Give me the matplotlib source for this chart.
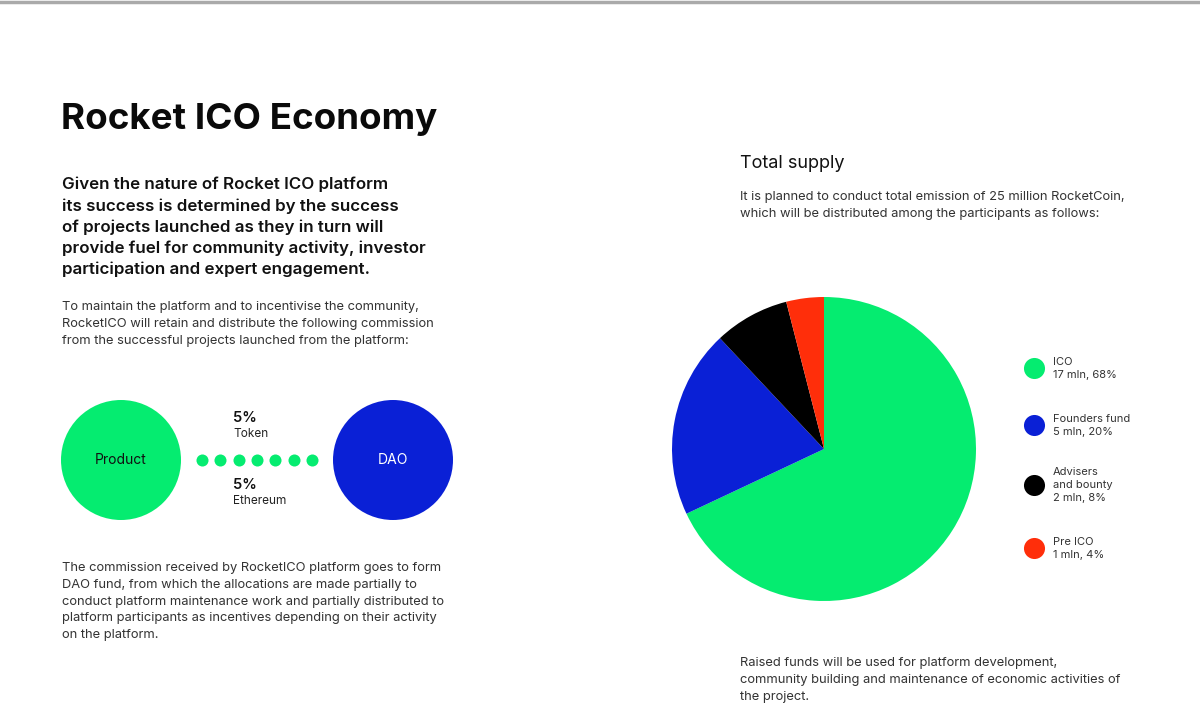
import matplotlib
matplotlib.use("Agg")
import matplotlib.pyplot as plt
from matplotlib.patches import Circle

# Pie data
shares = [68, 20, 8, 4]
amounts = ["17 mln", "5 mln", "2 mln", "1 mln"]
names = ["ICO", "Founders fund", "Advisers\nand bounty", "Pre ICO"]
colors = ["#05EC70", "#0A20D6", "#000000", "#FF2E0A"]

# Commission flow
flow_nodes = ["Product", "DAO"]
flow_colors = ["#05EC70", "#0A20D6"]
flow_text = [("5%", "Token"), ("5%", "Ethereum")]
n_dots = 7

FONT = "Inter"
W, H = 1200, 709
BODY = dict(fontsize=9.3, family=FONT, va="top", ha="left",
            color="#333333", linespacing=1.53)

fig = plt.figure(figsize=(12, 7.09), dpi=100)
fig.patch.set_facecolor("white")

# Page overlay in pixel coords
ax = fig.add_axes([0, 0, 1, 1])
ax.set_xlim(0, W)
ax.set_ylim(H, 0)
ax.axis("off")

ax.plot([0, W], [1.5, 1.5], color="#aaaaaa", lw=2.5)

ax.text(61, 120, "Rocket ICO Economy", fontsize=26.5, fontweight="bold",
        family=FONT, va="center", ha="left", color="#0a0a0a")

intro = ("Given the nature of Rocket ICO platform\n"
         "its success is determined by the success\n"
         "of projects launched as they in turn will\n"
         "provide fuel for community activity, investor\n"
         "participation and expert engagement.")
ax.text(62, 177, intro, fontsize=12.2, fontweight="semibold", family=FONT,
        va="top", ha="left", color="#111111", linespacing=1.45)

para1 = ("To maintain the platform and to incentivise the community,\n"
         "RocketICO will retain and distribute the following commission\n"
         "from the successful projects launched from the platform:")
ax.text(62, 301, para1, **BODY)

# Circles and dotted connector
for (cx, label, col, tcol) in zip([121, 393], flow_nodes, flow_colors, ["#111111", "white"]):
    ax.add_patch(Circle((cx, 460), 60, color=col, lw=0))
    ax.text(cx, 460, label, fontsize=10, family=FONT, ha="center", va="center", color=tcol)

dot_x = [202 + i * (312 - 202) / (n_dots - 1) for i in range(n_dots)]
ax.scatter(dot_x, [460] * n_dots, s=75, color="#05EC70", lw=0)

for (pct, cur), y in zip(flow_text, [418, 485]):
    ax.text(233, y, pct, fontsize=10.5, fontweight="semibold", family=FONT,
            ha="left", va="center", color="#111111")
    ax.text(233, y + 16, cur, fontsize=8.5, family=FONT, ha="left",
            va="center", color="#222222")

para2 = ("The commission received by RocketICO platform goes to form\n"
         "DAO fund, from which the allocations are made partially to\n"
         "conduct platform maintenance work and partially distributed to\n"
         "platform participants as incentives depending on their activity\n"
         "on the platform.")
ax.text(62, 562, para2, **BODY)

# Right column text
ax.text(740, 163, "Total supply", fontsize=13, family=FONT, va="center",
        ha="left", color="#111111")
ax.text(740, 191, "It is planned to conduct total emission of 25 million RocketCoin,\n"
        "which will be distributed among the participants as follows:", **BODY)
ax.text(740, 657, "Raised funds will be used for platform development,\n"
        "community building and maintenance of economic activities of\n"
        "the project.", **BODY)

# Legend
leg_y = [368, 425, 485, 548]
for y, nm, amt, sh, col in zip(leg_y, names, amounts, shares, colors):
    ax.scatter([1034], [y], s=230, color=col, lw=0)
    nlines = nm.count("\n") + 1
    top = y - 7 * nlines - 4
    ax.text(1053, top, f"{nm}\n{amt}, {sh}%", fontsize=8, family=FONT,
            va="top", ha="left", color="#333333", linespacing=1.4)

# Pie
cx, cy, r = 824, 449, 152
pax = fig.add_axes([(cx - r) / W, (H - cy - r) / H, 2 * r / W, 2 * r / H])
pax.pie(shares, colors=colors, startangle=90, counterclock=False,
        wedgeprops=dict(linewidth=0))
pax.set_xlim(-1, 1)
pax.set_ylim(-1, 1)
pax.set_aspect("equal")
pax.axis("off")

fig.savefig("out.png", dpi=100, facecolor="white")
